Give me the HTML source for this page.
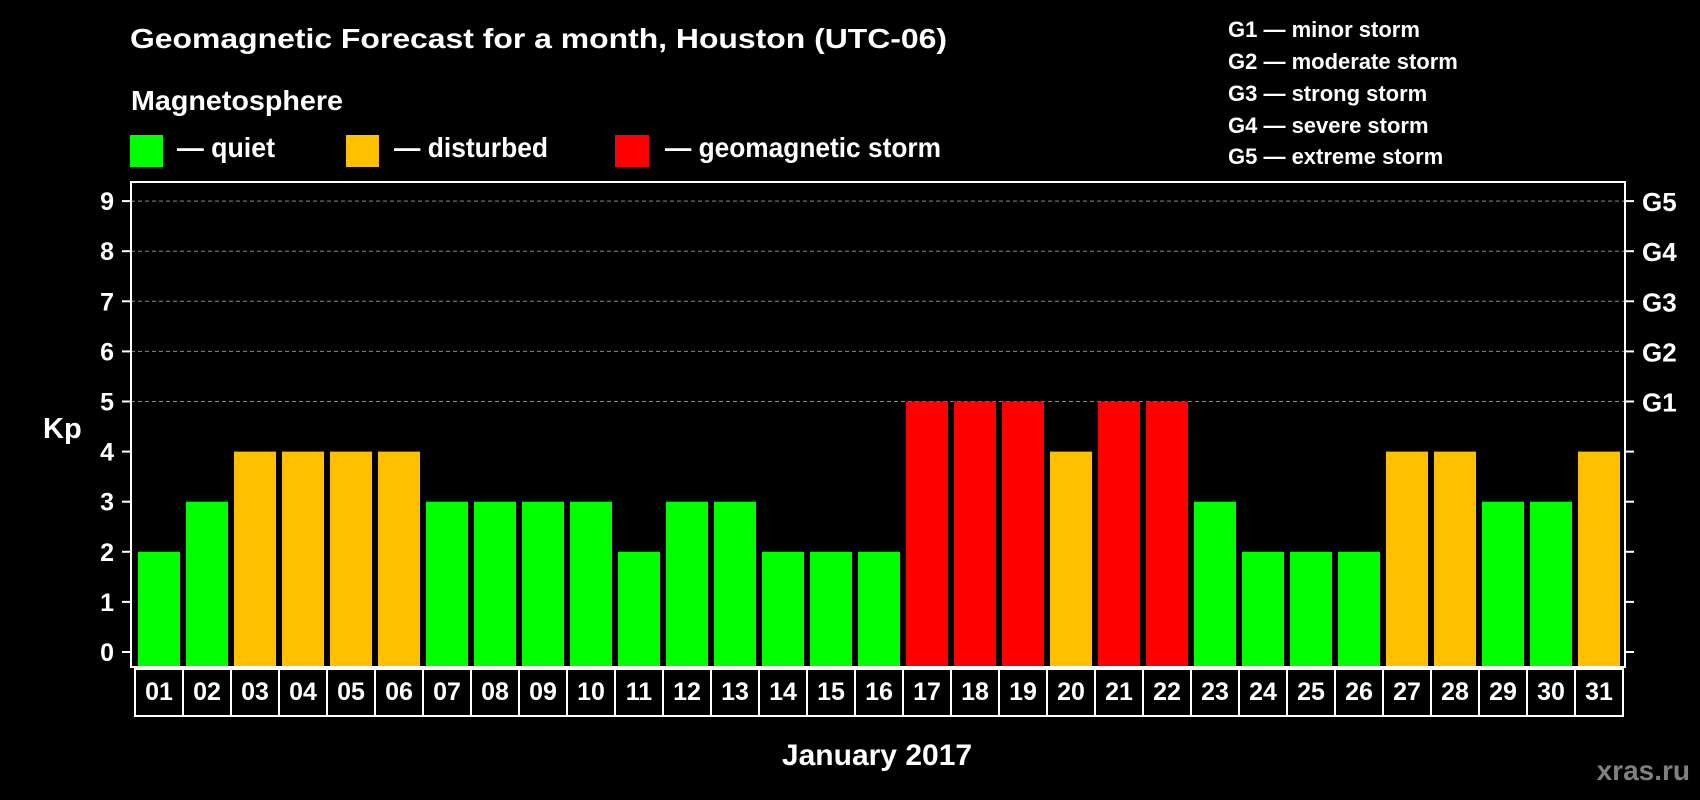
<!DOCTYPE html>
<html><head><meta charset="utf-8"><style>
html,body{margin:0;padding:0;background:#000;}
svg{display:block;font-family:"Liberation Sans",Arial,sans-serif;font-weight:bold;}
</style></head><body>
<svg id="chart" width="1700" height="800" viewBox="0 0 1700 800">
<rect x="0" y="0" width="1700" height="800" fill="#000"/>
<text x="130" y="48" font-size="28" fill="#fff" textLength="817" lengthAdjust="spacingAndGlyphs">Geomagnetic Forecast for a month, Houston (UTC-06)</text>
<text x="131" y="110" font-size="28" fill="#fff" textLength="212" lengthAdjust="spacingAndGlyphs">Magnetosphere</text>
<g>
<rect x="130" y="135" width="33" height="32" fill="#00ff00"/>
<text x="177" y="157" font-size="28" fill="#fff" textLength="98" lengthAdjust="spacingAndGlyphs">— quiet</text>
</g>
<g>
<rect x="346" y="135" width="33" height="32" fill="#ffc000"/>
<text x="394" y="157" font-size="28" fill="#fff" textLength="154" lengthAdjust="spacingAndGlyphs">— disturbed</text>
</g>
<g>
<rect x="615" y="135" width="34" height="32" fill="#ff0000"/>
<text x="665" y="157" font-size="28" fill="#fff" textLength="276" lengthAdjust="spacingAndGlyphs">— geomagnetic storm</text>
</g>
<g font-size="22" fill="#fff">
<text x="1228" y="37">G1 — minor storm</text>
<text x="1228" y="69">G2 — moderate storm</text>
<text x="1228" y="101">G3 — strong storm</text>
<text x="1228" y="133">G4 — severe storm</text>
<text x="1228" y="164">G5 — extreme storm</text>
</g>
<g id="grid"></g>
<g id="bars"></g>
<rect x="131" y="182" width="1494" height="485" fill="none" stroke="#fff" stroke-width="2"/>
<g id="axes"></g>
<g id="days"></g>
<text x="43" y="438" font-size="29" fill="#fff">Kp</text>
<text x="877" y="765" font-size="30" fill="#fff" text-anchor="middle">January 2017</text>
<text x="1690" y="780" font-size="28" fill="#808080" text-anchor="end">xras.ru</text>
</svg>
<script>
const days = ["01","02","03","04","05","06","07","08","09","10","11","12","13","14","15","16","17","18","19","20","21","22","23","24","25","26","27","28","29","30","31"];
const kpValues = [2,3,4,4,4,4,3,3,3,3,2,3,3,2,2,2,5,5,5,4,5,5,3,2,2,2,4,4,3,3,4];
const yTicks = [0,1,2,3,4,5,6,7,8,9];
const gLabels = ["","","","","","G1","G2","G3","G4","G5"];

const NS = "http://www.w3.org/2000/svg";
const plotL = 131, plotR = 1625, plotB = 667;
const y0 = 652, unit = 50.1;
const barStart = 138, pitch = 48, barW = 42;
function yScale(v){ return y0 - v*unit; }
function xScale(i){ return barStart + i*pitch; }
function colorFor(v){ return v >= 5 ? "#ff0000" : (v >= 4 ? "#ffc000" : "#00ff00"); }
function mk(tag, attrs){ const e = document.createElementNS(NS, tag); for (const k in attrs) e.setAttribute(k, attrs[k]); return e; }

const grid = document.getElementById("grid");
const axes = document.getElementById("axes");
yTicks.forEach((t, i) => {
  const y = yScale(t);
  if (t >= 5) {
    const g = mk("line", {x1: plotL, x2: plotR, y1: y, y2: y, stroke: "#888", "stroke-width": 1, "stroke-dasharray": "4,3"});
    
    
    grid.appendChild(g);
  }
  const lt = mk("line", {x1: 122, x2: plotL, y1: y, y2: y, stroke: "#fff", "stroke-width": 2});
  
  
  axes.appendChild(lt);
  const rt = mk("line", {x1: plotR, x2: 1634, y1: y, y2: y, stroke: "#fff", "stroke-width": 2});
  
  
  axes.appendChild(rt);
  const lbl = mk("text", {x: 114, y: y + 9, "font-size": 25, fill: "#fff", "text-anchor": "end"});
  lbl.textContent = String(t);
  
  
  axes.appendChild(lbl);
  if (gLabels[i]) {
    const gl = mk("text", {x: 1642, y: y + 10, "font-size": 26, fill: "#fff"});
    gl.textContent = gLabels[i];
    
    
    axes.appendChild(gl);
  }
});

const bars = document.getElementById("bars");
const dayG = document.getElementById("days");
kpValues.forEach((v, i) => {
  const x = xScale(i), y = yScale(v);
  const b = mk("rect", {x: x, y: y, width: barW, height: plotB - y, fill: colorFor(v)});
  
  
  bars.appendChild(b);
  const bx = 135 + i*pitch;
  const box = mk("rect", {x: bx, y: 669, width: pitch, height: 47, fill: "none", stroke: "#fff", "stroke-width": 2});
  
  
  dayG.appendChild(box);
  const t = mk("text", {x: bx + pitch/2, y: 700, "font-size": 25, fill: "#fff", "text-anchor": "middle"});
  t.textContent = days[i];
  
  
  dayG.appendChild(t);
});
</script>
</body></html>
